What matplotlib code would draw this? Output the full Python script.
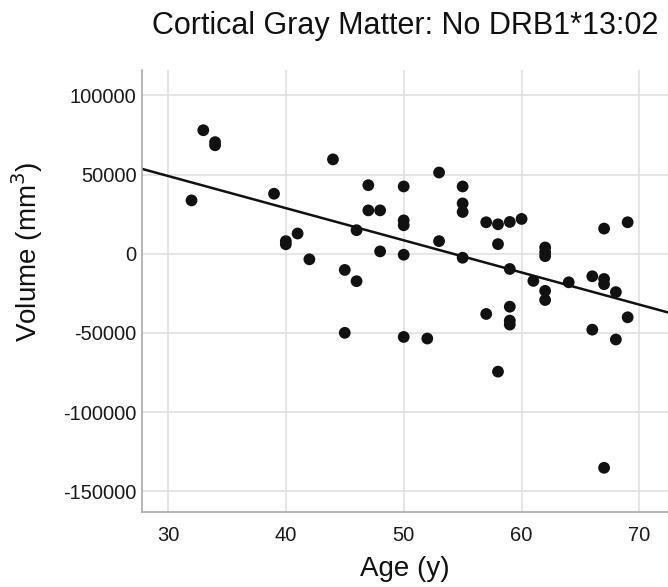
import matplotlib
matplotlib.use("Agg")
import matplotlib.pyplot as plt
import numpy as np

plt.rcParams['font.family'] = ['Liberation Sans', 'DejaVu Sans']
plt.rcParams['axes.unicode_minus'] = False

# Ages (years) and residual volumes (mm3)
age = [32, 33, 34, 34, 39, 40, 40, 41, 42, 44,
       45, 45, 46, 46, 47, 47, 48, 48,
       50, 50, 50, 50, 50, 52, 53, 53,
       55, 55, 55, 55, 57, 57, 58, 58, 58,
       59, 59, 59, 59, 59, 60, 61,
       62, 62, 62, 62, 62, 64, 66, 66,
       67, 67, 67, 67, 68, 68, 69, 69]
volume = [33700, 78000, 70500, 68500, 37900, 6000, 8000, 12800, -3500, 59600,
          -10200, -49900, 14900, -17300, 43300, 27400, 27400, 1500,
          42500, 21100, 18000, -600, -52500, -53500, 51300, 8000,
          42500, 31800, 26400, -2500, 19900, -38000, 18600, 6100, -74400,
          20100, -9600, -33400, -42200, -44700, 22000, -17100,
          4000, 1000, -1500, -23400, -29200, -18000, -14200, -47900,
          15900, -15900, -19200, -135100, -24200, -54100, 19900, -40100]

# fit line as drawn (intercept, slope per year)
fit_intercept = 110060
fit_slope = -2031

x_ticks = [30, 40, 50, 60, 70]
y_ticks = [-150000, -100000, -50000, 0, 50000, 100000]

fig = plt.figure(figsize=(6.68, 5.87), dpi=100)
ax = fig.add_axes([0.2126, 0.1278, 0.787, 0.7529])

ax.set_xlim(27.8, 72.4)
ax.set_ylim(-163000, 116000)

ax.grid(True, color='#e0e0e0', linewidth=1.2)
ax.set_axisbelow(True)

xs = np.array([27.8, 72.4])
ax.plot(xs, fit_intercept + fit_slope * xs, color='#111111', linewidth=1.8, zorder=2)
ax.scatter(age, volume, s=72, color='#111111', edgecolors='none', zorder=3)

ax.set_xticks(x_ticks)
ax.set_yticks(y_ticks)
ax.tick_params(axis='both', length=0, labelsize=14.5, colors='#1a1a1a')
ax.tick_params(axis='x', pad=10)
ax.tick_params(axis='y', pad=4)

for side in ['top', 'right']:
    ax.spines[side].set_visible(False)
for side in ['left', 'bottom']:
    ax.spines[side].set_color('#aaaaaa')
    ax.spines[side].set_linewidth(1.2)

ax.set_title('Cortical Gray Matter: No DRB1*13:02', fontsize=22, pad=26, color='#111111')
ax.set_xlabel('Age (y)', fontsize=20, labelpad=8, color='#111111')
fig.text(27 / 668, 1 - 252 / 587, 'Volume (mm$^3$)', rotation=90, fontsize=20,
         ha='center', va='center', color='#111111')

fig.savefig('out.png', dpi=100)
